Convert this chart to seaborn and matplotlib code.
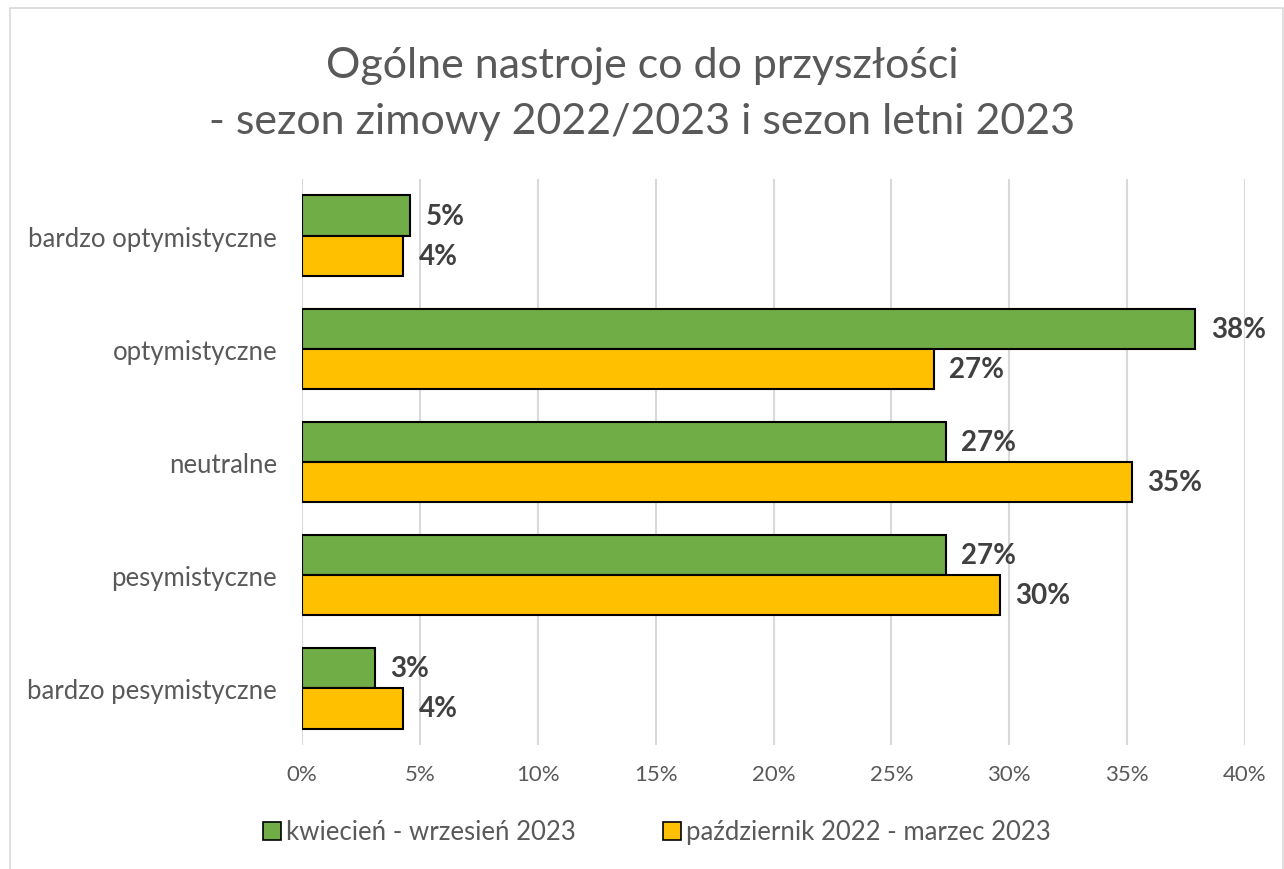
import numpy as np
import pandas as pd
import matplotlib
matplotlib.use("Agg")
import matplotlib.pyplot as plt
import seaborn as sns
from matplotlib.patches import Patch, Rectangle

# dane (%)
categories = ["bardzo optymistyczne", "optymistyczne", "neutralne",
              "pesymistyczne", "bardzo pesymistyczne"]
series_names = ["kwiecień - wrzesień 2023", "październik 2022 - marzec 2023"]
lato_2023 = [4.6, 37.9, 27.3, 27.3, 3.1]
zima_2022_2023 = [4.3, 26.8, 35.2, 29.6, 4.3]
x_ticks = [0, 5, 10, 15, 20, 25, 30, 35, 40]

colors = ["#70AD47", "#FFC000"]
text_gray = "#595959"
label_gray = "#404040"


def main():
    df = pd.DataFrame({
        "kategoria": categories * 2,
        "okres": [series_names[0]] * len(categories) + [series_names[1]] * len(categories),
        "wartosc": lato_2023 + zima_2022_2023,
    })

    sns.set_style("white")
    plt.rcParams["font.family"] = ["Lato", "DejaVu Sans"]

    fig = plt.figure(figsize=(12.84, 8.7), dpi=100)
    # ramka wykresu
    fig.patches.append(Rectangle((10 / 1284, -0.01), 1 - 10 / 1284 - 0.0005, 1 - 9 / 870 + 0.01,
                                 transform=fig.transFigure, fill=False,
                                 edgecolor="#D9D9D9", linewidth=1.2))
    ax = fig.add_axes([302 / 1284, 1 - 746 / 870, (1245 - 302) / 1284, (746 - 180) / 870])

    sns.barplot(data=df, y="kategoria", x="wartosc", hue="okres",
                hue_order=series_names, order=categories, palette=colors,
                saturation=1, orient="h", width=0.71, edgecolor="black",
                linewidth=1.5, legend=False, ax=ax)

    for cont in ax.containers:
        vals = cont.datavalues
        ax.bar_label(cont, labels=[f"{v:.0f}%" for v in vals], padding=11,
                     fontsize=20, fontweight="bold", color=label_gray)

    ax.set_xlim(0, 40)
    ax.set_xticks(x_ticks)
    ax.set_xticklabels([f"{t}%" for t in x_ticks])
    ax.set_xlabel("")
    ax.set_ylabel("")
    ax.grid(axis="x", color="#D9D9D9", linewidth=1.5)
    ax.set_axisbelow(True)
    for s in ax.spines.values():
        s.set_visible(False)
    ax.tick_params(axis="x", length=0, pad=14, labelsize=16, labelcolor=text_gray)
    ax.tick_params(axis="y", length=0, pad=18, labelsize=18.5, labelcolor=text_gray)

    fig.text(0.5, 1 - 94 / 870, "Ogólne nastroje co do przyszłości\n- sezon zimowy 2022/2023 i sezon letni 2023",
             ha="center", va="center", fontsize=31, color=text_gray, linespacing=1.55)

    handles = [Patch(facecolor=c, edgecolor="black", linewidth=1.2) for c in colors]
    fig.legend(handles, series_names, loc="center", bbox_to_anchor=(657 / 1284, 1 - 833 / 870),
               ncol=2, frameon=False, fontsize=18.5, labelcolor=text_gray,
               handlelength=0.7, handleheight=0.7, handletextpad=0.2, columnspacing=3.4)

    fig.savefig("out.png", dpi=100, facecolor="white")


if __name__ == "__main__":
    main()
